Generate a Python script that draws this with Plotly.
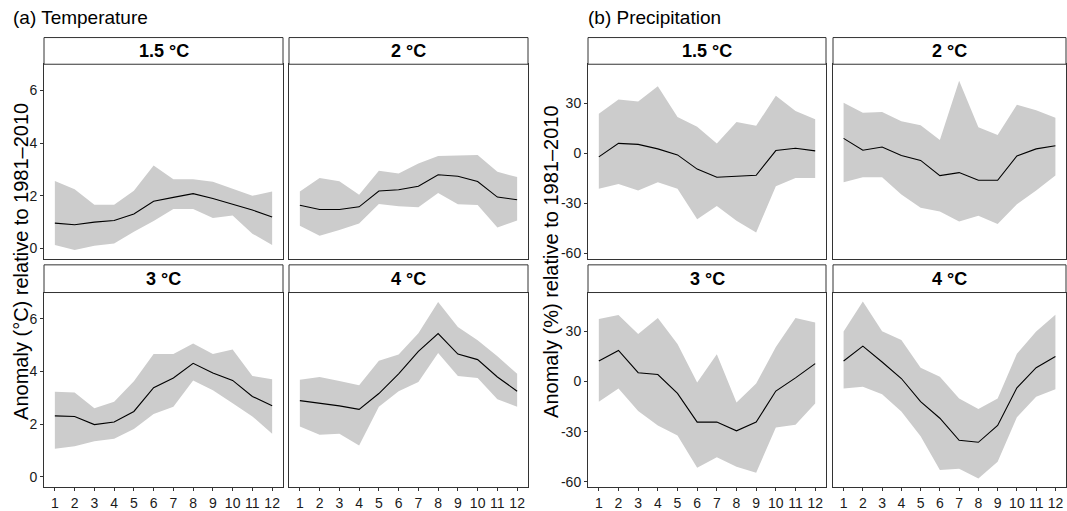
import plotly.graph_objects as go

# months on the x axis
months = list(range(1, 13))
scenarios = ["1.5 °C", "2 °C", "3 °C", "4 °C"]

# Temperature anomaly (°C): median, upper and lower bound of the ensemble
t15_mid = [0.96, 0.90, 1.00, 1.06, 1.31, 1.79, 1.94, 2.08, 1.90, 1.69, 1.46, 1.19]
t15_hi = [2.56, 2.25, 1.66, 1.66, 2.19, 3.15, 2.63, 2.63, 2.53, 2.28, 2.00, 2.16]
t15_lo = [0.13, -0.06, 0.10, 0.19, 0.63, 1.04, 1.50, 1.50, 1.16, 1.25, 0.56, 0.13]

t2_mid = [1.64, 1.48, 1.48, 1.58, 2.18, 2.23, 2.36, 2.80, 2.74, 2.54, 1.95, 1.85]
t2_hi = [2.16, 2.68, 2.55, 2.04, 2.95, 2.85, 3.23, 3.51, 3.53, 3.55, 2.91, 2.71]
t2_lo = [0.86, 0.48, 0.70, 0.95, 1.69, 1.60, 1.56, 2.11, 1.68, 1.65, 0.79, 1.06]

t3_mid = [2.31, 2.29, 1.98, 2.08, 2.48, 3.38, 3.75, 4.31, 3.94, 3.66, 3.05, 2.70]
t3_hi = [3.23, 3.20, 2.60, 2.85, 3.63, 4.66, 4.66, 5.06, 4.66, 4.83, 3.83, 3.70]
t3_lo = [1.06, 1.16, 1.35, 1.44, 1.81, 2.38, 2.66, 3.66, 3.29, 2.79, 2.29, 1.63]

t4_mid = [2.89, 2.80, 2.69, 2.56, 3.16, 3.91, 4.76, 5.44, 4.66, 4.45, 3.79, 3.25]
t4_hi = [3.68, 3.79, 3.64, 3.48, 4.41, 4.64, 5.45, 6.64, 5.69, 5.19, 4.58, 3.91]
t4_lo = [1.91, 1.59, 1.63, 1.19, 2.66, 3.25, 3.60, 4.70, 3.83, 3.75, 2.94, 2.66]

# Precipitation anomaly (%)
p15_mid = [-2.2, 5.9, 5.3, 2.6, -1.0, -9.5, -14.4, -13.8, -13.2, 1.6, 3.0, 1.4]
p15_hi = [23.7, 32.2, 31.0, 40.1, 21.7, 15.8, 5.9, 18.7, 16.4, 34.5, 25.3, 20.3]
p15_lo = [-21.3, -18.4, -22.3, -17.4, -21.3, -39.5, -31.6, -40.5, -47.4, -19.7, -14.8, -14.8]

p2_mid = [8.9, 1.8, 3.7, -1.4, -4.3, -13.4, -11.6, -16.2, -16.2, -1.6, 2.6, 4.5]
p2_hi = [30.2, 24.3, 24.7, 19.1, 16.8, 7.9, 43.4, 15.6, 10.9, 29.0, 25.7, 21.3]
p2_lo = [-17.4, -14.4, -14.4, -24.7, -32.6, -34.9, -40.9, -37.5, -42.4, -30.6, -22.3, -13.4]

p3_mid = [12.3, 18.6, 5.3, 4.2, -7.1, -24.3, -24.3, -29.5, -24.3, -5.7, 2.2, 10.7]
p3_hi = [37.4, 39.8, 28.5, 38.0, 22.5, -0.6, 16.4, -12.5, -1.2, 20.6, 38.0, 35.4]
p3_lo = [-12.1, -4.2, -17.6, -26.3, -32.4, -51.6, -45.3, -51.0, -54.6, -27.5, -25.9, -13.1]

p4_mid = [12.3, 21.2, 11.7, 1.8, -12.1, -22.0, -35.2, -36.4, -26.3, -3.8, 8.3, 15.0]
p4_hi = [29.9, 47.9, 30.1, 24.9, 8.3, 2.8, -10.1, -16.4, -10.1, 16.6, 29.9, 40.0]
p4_lo = [-4.2, -3.2, -7.7, -18.0, -32.8, -53.0, -52.2, -58.1, -48.1, -21.4, -9.1, -4.7]

temp_ticks = [0, 2, 4, 6]
prec_ticks = [-60, -30, 0, 30]

W, H = 1067, 511
FONT = "Liberation Sans, Arial, Helvetica, sans-serif"
INK = "#333333"

fig = go.Figure()

# pixel boxes of each panel (left, right) and rows (strip top, plot top, plot bottom)
cols_t = [(44, 283), (289, 528)]
cols_p = [(588, 826), (833, 1066)]
rows = [(38, 65, 262), (268, 296, 493)]

panels = [
    ("temp", 0, 0, t15_mid, t15_hi, t15_lo),
    ("temp", 0, 1, t2_mid, t2_hi, t2_lo),
    ("temp", 1, 0, t3_mid, t3_hi, t3_lo),
    ("temp", 1, 1, t4_mid, t4_hi, t4_lo),
    ("prec", 0, 0, p15_mid, p15_hi, p15_lo),
    ("prec", 0, 1, p2_mid, p2_hi, p2_lo),
    ("prec", 1, 0, p3_mid, p3_hi, p3_lo),
    ("prec", 1, 1, p4_mid, p4_hi, p4_lo),
]

shapes = []
annotations = []

for i, (var, r, c, mid, hi, lo) in enumerate(panels):
    n = i + 1
    xa = "x" if n == 1 else f"x{n}"
    ya = "y" if n == 1 else f"y{n}"
    x0, x1 = (cols_t if var == "temp" else cols_p)[c]
    s0, p0, p1 = rows[r]

    fig.add_trace(go.Scatter(
        x=months + months[::-1], y=hi + lo[::-1],
        fill="toself", fillcolor="#cccccc", line=dict(width=0),
        mode="lines", hoverinfo="skip", showlegend=False,
        xaxis=xa, yaxis=ya))
    fig.add_trace(go.Scatter(
        x=months, y=mid, mode="lines",
        line=dict(color="black", width=1.1),
        showlegend=False, xaxis=xa, yaxis=ya))

    if var == "temp":
        yrange = [-0.4, 7.0]
        ticks = temp_ticks
    else:
        yrange = [-63.3, 53.3]
        ticks = prec_ticks

    xkey = "xaxis" if n == 1 else f"xaxis{n}"
    ykey = "yaxis" if n == 1 else f"yaxis{n}"
    fig.layout[xkey] = dict(
        domain=[x0 / W, x1 / W], anchor=ya, range=[0.45, 12.55],
        tickvals=months, showgrid=False, zeroline=False,
        showline=True, mirror=True, linecolor=INK, linewidth=1,
        ticks="outside" if r == 1 else "", ticklen=3, tickcolor=INK,
        showticklabels=(r == 1),
        tickfont=dict(family=FONT, size=14, color="#1a1a1a"))
    fig.layout[ykey] = dict(
        domain=[1 - p1 / H, 1 - p0 / H], anchor=xa, range=yrange,
        tickvals=ticks, ticktext=[str(t) for t in ticks],
        showgrid=False, zeroline=False,
        showline=True, mirror=True, linecolor=INK, linewidth=1,
        ticks="outside" if c == 0 else "", ticklen=3, tickcolor=INK,
        showticklabels=(c == 0),
        tickfont=dict(family=FONT, size=14, color="#1a1a1a"))

    # facet strip
    shapes.append(dict(
        type="rect", xref="paper", yref="paper",
        x0=x0 / W, x1=x1 / W, y0=1 - p0 / H, y1=1 - s0 / H,
        fillcolor="white", line=dict(color=INK, width=1)))
    annotations.append(dict(
        text=f"<b>{scenarios[r * 2 + c]}</b>", xref="paper", yref="paper",
        x=(x0 + x1) / 2 / W, y=1 - (s0 + p0) / 2 / H,
        showarrow=False, xanchor="center", yanchor="middle",
        font=dict(family=FONT, size=18, color="black")))

# panel titles
annotations.append(dict(
    text="(a) Temperature", xref="paper", yref="paper",
    x=11 / W, y=1 - 18 / H, xanchor="left", yanchor="middle",
    showarrow=False, font=dict(family=FONT, size=19, color="black")))
annotations.append(dict(
    text="(b) Precipitation", xref="paper", yref="paper",
    x=586 / W, y=1 - 18 / H, xanchor="left", yanchor="middle",
    showarrow=False, font=dict(family=FONT, size=19, color="black")))

# y axis titles
annotations.append(dict(
    text="Anomaly (°C) relative to 1981–2010", xref="paper", yref="paper",
    x=21 / W, y=1 - 265 / H, textangle=-90, xanchor="center", yanchor="middle",
    showarrow=False, font=dict(family=FONT, size=20, color="black")))
annotations.append(dict(
    text="Anomaly (%) relative to 1981–2010", xref="paper", yref="paper",
    x=551 / W, y=1 - 265 / H, textangle=-90, xanchor="center", yanchor="middle",
    showarrow=False, font=dict(family=FONT, size=20, color="black")))

fig.update_layout(
    width=W, height=H,
    margin=dict(l=0, r=0, t=0, b=0),
    plot_bgcolor="white", paper_bgcolor="white",
    shapes=shapes, annotations=annotations,
    showlegend=False)

# drop the default page margin so the figure sits flush in the window
fig.write_html("out.html", config={"displayModeBar": False},
               post_script="document.body.style.margin='0px';")
